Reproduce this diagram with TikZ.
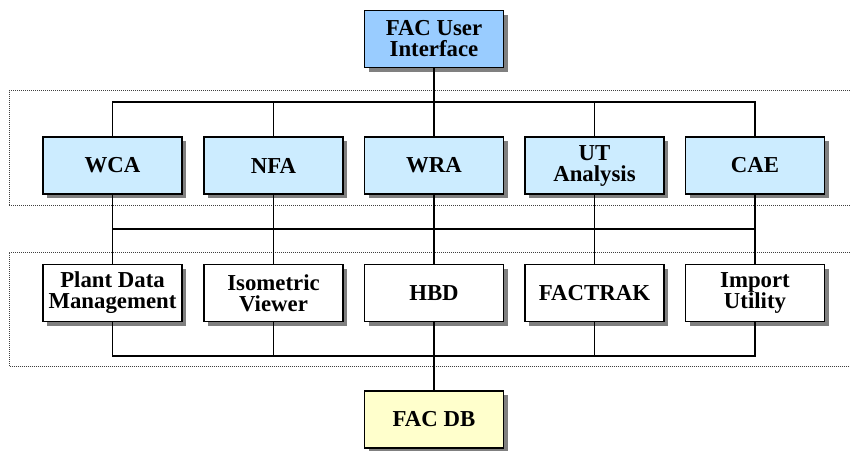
\documentclass[tikz,border=0pt]{standalone}
\usepackage{fontspec}
\setmainfont{Liberation Serif}
\newfontfamily\boxfont{LiberationSerif-Bold.ttf}
\usetikzlibrary{shadows}
\definecolor{topblue}{HTML}{99CCFF}
\definecolor{midblue}{HTML}{CCECFF}
\definecolor{dbyellow}{HTML}{FFFFCC}
\begin{document}
\begin{tikzpicture}[x=1pt,y=-1pt,
  box/.style={draw=black, line width=1.3pt, minimum width=139pt, minimum height=57pt,
    inner sep=0pt, align=center, font=\boxfont\fontsize{22.8}{21}\selectfont,
    drop shadow={shadow xshift=4pt, shadow yshift=-4pt, fill=black!50, opacity=1}},
  topbox/.style={box, fill=topblue},
  midbox/.style={box, fill=midblue},
  lowbox/.style={box, fill=white},
  dbbox/.style={box, fill=dbyellow},
  conn/.style={draw=black, line width=1.2pt},
  group/.style={draw=black!75, line width=0.9pt, dash pattern=on 1pt off 1pt}
]
\useasboundingbox (0,0) rectangle (850,450);

% dotted group frames (open on the right)
\draw[group] (860,90.5) -- (9,90.5) -- (9,205.5) -- (860,205.5);
\draw[group] (860,252) -- (9,252) -- (9,366.5) -- (860,366.5);

% nodes
\node[topbox] (top) at (434,39) {FAC User\\Interface};

\node[midbox] (wca) at (112.5,165.5) {WCA};
\node[midbox] (nfa) at (273.5,165.5) {NFA};
\node[midbox] (wra) at (434,165.5) {WRA};
\node[midbox] (ut)  at (594.5,165.5) {UT\\Analysis};
\node[midbox] (cae) at (755,165.5) {CAE};

\node[lowbox] (pdm) at (112.5,293) {Plant Data\\Management};
\node[lowbox] (iso) at (273.5,293) {Isometric\\Viewer};
\node[lowbox] (hbd) at (434,293) {HBD};
\node[lowbox] (fac) at (594.5,293) {FACTRAK};
\node[lowbox] (imp) at (755,293) {Import\\Utility};

\node[dbbox] (db) at (434,419.5) {FAC DB};

\coordinate (bus1) at (434,102);
\coordinate (bus2) at (434,229);
\coordinate (bus3) at (434,356);

\draw[conn] (top.south) -- (wra.north);
\draw[conn] (wca.north) |- (bus1) -| (cae.north);
\draw[conn] (nfa.north) -- (nfa.north |- bus1);
\draw[conn] (ut.north) -- (ut.north |- bus1);

\draw[conn] (wca.south) -- (pdm.north);
\draw[conn] (nfa.south) -- (iso.north);
\draw[conn] (wra.south) -- (hbd.north);
\draw[conn] (ut.south) -- (fac.north);
\draw[conn] (cae.south) -- (imp.north);
\draw[conn] (wca.south |- bus2) -- (cae.south |- bus2);

\draw[conn] (pdm.south) |- (bus3) -| (imp.south);
\draw[conn] (iso.south) -- (iso.south |- bus3);
\draw[conn] (fac.south) -- (fac.south |- bus3);
\draw[conn] (hbd.south) -- (db.north);
\end{tikzpicture}
\end{document}
